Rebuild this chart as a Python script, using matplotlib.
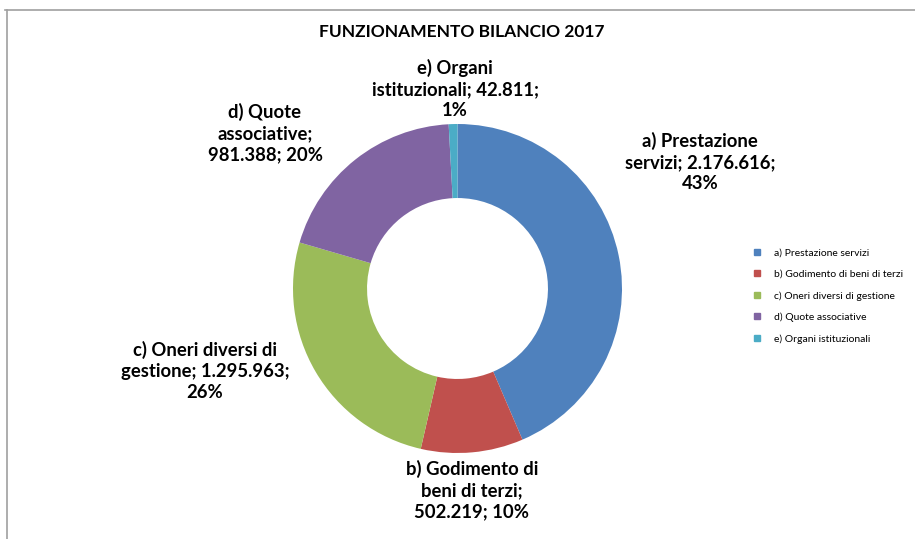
import matplotlib
matplotlib.use("Agg")
import matplotlib.pyplot as plt
from matplotlib.lines import Line2D

plt.rcParams['font.family'] = ['Lato', 'DejaVu Sans']

categories = ['a) Prestazione servizi', 'b) Godimento di beni di terzi',
              'c) Oneri diversi di gestione', 'd) Quote associative',
              'e) Organi istituzionali']
values = [2176616, 502219, 1295963, 981388, 42811]
label_texts = ['a) Prestazione\nservizi; 2.176.616;\n43%',
               'b) Godimento di\nbeni di terzi;\n502.219; 10%',
               'c) Oneri diversi di\ngestione; 1.295.963;\n26%',
               'd) Quote\nassociative;\n981.388; 20%',
               'e) Organi\nistituzionali; 42.811;\n1%']
colors = ['#4F81BD', '#C0504D', '#9BBB59', '#8064A2', '#4BACC6']

# label centres in pixels (layout only)
label_pos = [(700, 162), (472, 490), (205, 371), (265, 133), (455, 89)]

W, H = 915, 539
fig = plt.figure(figsize=(W / 100, H / 100), dpi=100)

cx, cy, R = 457.5, 288.5, 164.5
ax = fig.add_axes([(cx - R) / W, 1 - (cy + R) / H, 2 * R / W, 2 * R / H])
ax.pie(values, colors=colors, startangle=90, counterclock=False, radius=1,
       wedgeprops=dict(width=0.45, linewidth=0))
ax.set_xlim(-1, 1)
ax.set_ylim(-1, 1)
ax.set_aspect('equal')
ax.axis('off')

for txt, (px, py) in zip(label_texts, label_pos):
    fig.text(px / W, 1 - py / H, txt, ha='center', va='center',
             fontsize=13.3, fontweight='bold', linespacing=1.3, color='#000000')

fig.text(462 / W, 1 - 32 / H, 'FUNZIONAMENTO BILANCIO 2017', ha='center',
         va='center', fontsize=12.5, fontweight='bold')

# chart frame (top and left edges visible)
fig.add_artist(Line2D([5 / W, 1], [1 - 10 / H, 1 - 10 / H], color='#A0A0A0', lw=1.2))
fig.add_artist(Line2D([7 / W, 7 / W], [0, 1 - 10 / H], color='#A0A0A0', lw=1.2))

handles = [Line2D([0], [0], marker='s', linestyle='none', markersize=5,
                  markerfacecolor=c, markeredgecolor=c) for c in colors]
fig.legend(handles, categories, loc='center left', bbox_to_anchor=(742 / W, 1 - 296 / H),
           frameon=False, fontsize=7.5, handlelength=1.0, handletextpad=1.2,
           labelspacing=1.15)

fig.savefig('out.png', dpi=100)
